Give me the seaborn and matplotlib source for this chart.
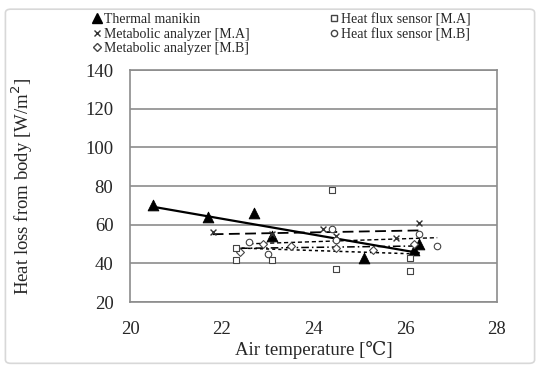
import matplotlib
matplotlib.use('Agg')
import matplotlib.pyplot as plt
from matplotlib.patches import FancyBboxPatch
from matplotlib.lines import Line2D
import numpy as np
import pandas as pd
import seaborn as sns

# values (air temperature [C], heat loss [W/m2])
manikin_t = [20.5, 21.7, 22.7, 23.1, 25.1, 26.2, 26.3]
manikin_q = [70, 64, 66, 54, 43, 47, 50]

meta_a_t = [21.8, 23.1, 24.2, 24.5, 25.8, 26.3]
meta_a_q = [56, 55, 58, 54, 53, 61]

meta_b_t = [22.4, 22.9, 23.5, 24.5, 25.3, 26.2]
meta_b_q = [46, 50, 49, 48, 47, 50]

flux_a_t = [22.3, 22.3, 23.1, 24.4, 24.5, 26.1, 26.1]
flux_a_q = [48, 42, 42, 78, 37, 36, 43]

flux_b_t = [22.6, 23.0, 24.4, 24.5, 26.3, 26.7]
flux_b_q = [51, 45, 58, 52, 55, 49]

labels = ['Thermal manikin', 'Metabolic analyzer [M.A]', 'Metabolic analyzer [M.B]',
          'Heat flux sensor [M.A]', 'Heat flux sensor [M.B]']

sns.set_style('white')
plt.rcParams['font.family'] = ['Liberation Serif', 'DejaVu Serif']

fig = plt.figure(figsize=(5.4, 3.67), dpi=100)
ax = fig.add_axes([0.241, 0.177, 0.679, 0.632])

# light rounded border around the whole picture
fig.patches.append(FancyBboxPatch((0.01, 0.01), 0.98, 0.965, boxstyle='round,pad=0,rounding_size=0.01',
                                  transform=fig.transFigure, fill=False, ec='#d8d8d8', lw=1.2))

series = [
    (manikin_t, manikin_q, dict(marker='^', s=60, color='black', edgecolor='black'), '-', 1.6),
    (meta_a_t, meta_a_q, dict(marker='x', s=18, color='#333333', linewidth=1.0), (0, (6, 3)), 1.3),
    (meta_b_t, meta_b_q, dict(marker='D', s=16, facecolor='white', edgecolor='#444444', linewidth=0.8), (0, (5, 2, 1, 2)), 1.1),
    (flux_a_t, flux_a_q, dict(marker='s', s=22, facecolor='white', edgecolor='#444444', linewidth=0.8), (0, (2, 2)), 1.1),
    (flux_b_t, flux_b_q, dict(marker='o', s=22, facecolor='white', edgecolor='#444444', linewidth=0.8), (0, (3, 2)), 1.0),
]

for t, q, mk, ls, lw in series:
    df = pd.DataFrame({'t': t, 'q': q})
    sns.regplot(data=df, x='t', y='q', ax=ax, scatter=False, ci=None, truncate=True,
                line_kws=dict(color='black', linestyle=ls, linewidth=lw))
    sns.scatterplot(data=df, x='t', y='q', ax=ax, zorder=5, **mk)

ax.set_xlim(20, 28)
ax.set_ylim(20, 140)
ax.set_xticks([20, 22, 24, 26, 28])
ax.set_yticks(range(20, 141, 20))
ax.yaxis.grid(True, color='#8c8c8c', linewidth=1.2)
for sp in ax.spines.values():
    sp.set_color('#8c8c8c')
    sp.set_linewidth(1.2)
ax.tick_params(labelsize=13.5, length=0)
ax.tick_params(axis='x', pad=14)
ax.tick_params(axis='y', pad=12)
ax.set_xlabel('Air temperature [℃]', fontsize=13.5, labelpad=2)
ax.set_ylabel('Heat loss from body [W/m$^2$]', fontsize=13.5, labelpad=36)

handles = [
    Line2D([], [], marker='^', color='black', ls='none', ms=7),
    Line2D([], [], marker='x', color='#333333', ls='none', ms=4),
    Line2D([], [], marker='D', mfc='white', mec='#444444', ls='none', ms=4),
    Line2D([], [], marker='s', mfc='white', mec='#444444', ls='none', ms=4.5),
    Line2D([], [], marker='o', mfc='white', mec='#444444', ls='none', ms=4.5),
]
fig.legend(handles[:3], labels[:3], loc='upper left', bbox_to_anchor=(0.162, 0.98),
           frameon=False, fontsize=10, handlelength=0.6, handletextpad=0.2, labelspacing=0.12,
           borderaxespad=0)
fig.legend(handles[3:], labels[3:], loc='upper left', bbox_to_anchor=(0.6, 0.98),
           frameon=False, fontsize=10, handlelength=0.6, handletextpad=0.2, labelspacing=0.12,
           borderaxespad=0)

fig.savefig('out.png', dpi=100)
